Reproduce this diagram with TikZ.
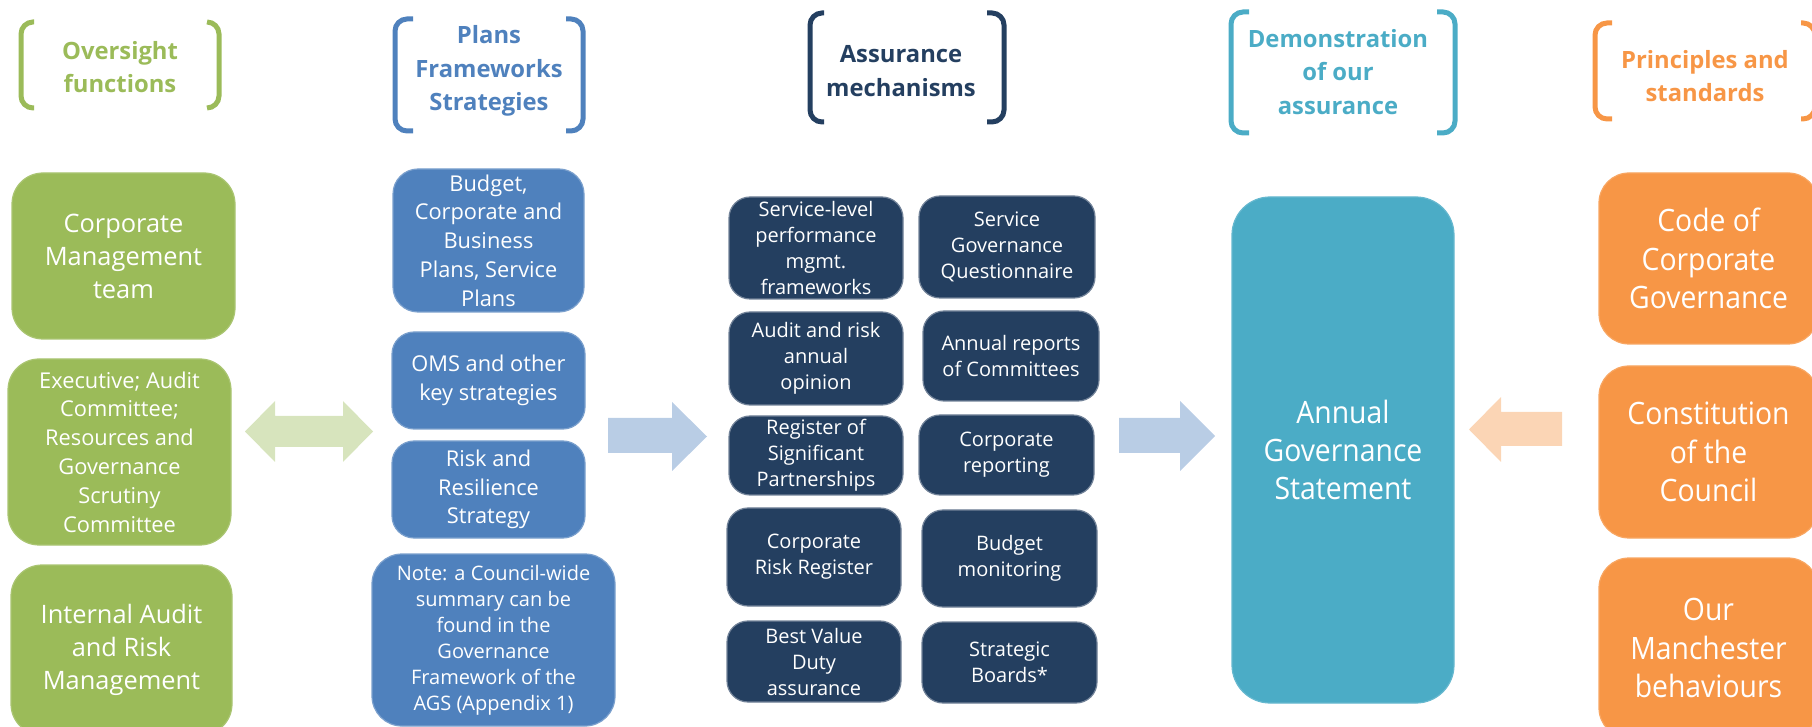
\documentclass[tikz,border=0pt]{standalone}
\usepackage{fontspec}
\setmainfont{Open Sans}
\newfontfamily\narrowfont[FakeStretch=0.92]{Open Sans}

\definecolor{ogreen}{HTML}{9BBB59}
\definecolor{oblue}{HTML}{4F81BD}
\definecolor{onavy}{HTML}{243F60}
\definecolor{oteal}{HTML}{4BACC6}
\definecolor{oorange}{HTML}{F79646}
\definecolor{agreen}{HTML}{D7E4BD}
\definecolor{ablue}{HTML}{B9CDE5}
\definecolor{apeach}{HTML}{FBD5B5}

\newcommand{\fBig}{\fontsize{12.7}{16.5}\selectfont}
\newcommand{\fMid}{\fontsize{10.9}{14.4}\selectfont}
\newcommand{\fSmall}{\fontsize{10}{13}\selectfont}
\newcommand{\fNarrow}{\narrowfont\fontsize{15.4}{19.2}\selectfont}
\newcommand{\fHead}{\bfseries\fontsize{11.9}{16.7}\selectfont}

\tikzset{
  card/.style={rounded corners=#1, inner sep=0pt, align=center, text=white, line width=0.6pt},
  greencard/.style={card=15.5pt, fill=ogreen, draw=ogreen!85!white},
  bluecard/.style={card=#1, fill=oblue, draw=oblue!75!white, font=\fMid},
  navycard/.style={card=10.5pt, fill=onavy, draw=onavy!65!white, font=\fSmall},
  tealcard/.style={card=19pt, fill=oteal, draw=oteal!85!white, font=\fNarrow},
  orangecard/.style={card=15pt, fill=oorange, draw=oorange!85!white, font=\fNarrow},
  head/.style={align=center, inner sep=0pt, font=\fHead},
  brk/.style={line width=2.5pt, rounded corners=6pt},
  blockarrow/.style={draw=none}
}

\begin{document}
\begin{tikzpicture}[x=0.5pt, y=-0.5pt]
\useasboundingbox (0,0) rectangle (1812,727);
\clip (0,0) rectangle (1812,727);

% ---------- column headings ----------
\node[head, text=ogreen] (hOver) at (120,67) {Oversight\\functions};
\draw[brk, ogreen] (34,22) -- (21,22) -- (21,108) -- (34,108);
\draw[brk, ogreen] (207,22) -- (219,22) -- (219,108) -- (207,108);

\node[head, text=oblue] (hPlans) at (489,71) {Plans\\Frameworks\\Strategies};
\draw[brk, oblue] (413,19) -- (395,19) -- (395,131) -- (413,131);
\draw[brk, oblue] (566,19) -- (583,19) -- (583,131) -- (566,131);

\node[head, text=onavy] (hAssur) at (901,71) {Assurance\\mechanisms};
\draw[brk, onavy] (824,13) -- (810,13) -- (810,122) -- (824,122);
\draw[brk, onavy] (987,13) -- (1004,13) -- (1004,122) -- (987,122);

\node[head, text=oteal] (hDemo) at (1338,72) {Demonstration\\of our\\assurance};
\draw[brk, oteal] (1249,12) -- (1231,12) -- (1231,133) -- (1249,133);
\draw[brk, oteal] (1437,12) -- (1455,12) -- (1455,133) -- (1437,133);

\node[head, text=oorange] (hPrin) at (1705,76) {Principles and\\standards};
\draw[brk, oorange] (1612,23) -- (1595,23) -- (1595,119) -- (1612,119);
\draw[brk, oorange] (1801,23) -- (1815,23) -- (1815,119) -- (1801,119);

% ---------- oversight functions ----------
\node[greencard, font=\fBig, minimum width=111.5pt, minimum height=83pt] (cmt) at (123.5,256)
  {Corporate\\Management\\team};
\node[greencard, font=\fMid, minimum width=111.5pt, minimum height=93pt] (exec) at (119.5,452)
  {Executive; Audit\\Committee;\\Resources and\\Governance\\Scrutiny\\Committee};
\node[greencard, font=\fBig, minimum width=110.5pt, minimum height=85pt] (iarm) at (121.5,650)
  {Internal Audit\\and Risk\\Management};

% ---------- plans, frameworks, strategies ----------
\node[bluecard=12.5pt, minimum width=95.5pt, minimum height=71.5pt] (budget) at (488.5,240.5)
  {Budget,\\Corporate and\\Business\\Plans, Service\\Plans};
\node[bluecard=11pt, minimum width=96.5pt, minimum height=48.5pt] (oms) at (488.5,380.5)
  {OMS and other\\key strategies};
\node[bluecard=11pt, minimum width=96.5pt, minimum height=48.5pt] (risk) at (488.5,489.5)
  {Risk and\\Resilience\\Strategy};
\node[bluecard=15pt, font=\fSmall, minimum width=121.5pt, minimum height=86pt] (note) at (493.5,640)
  {Note: a Council-wide\\summary can be\\found in the\\Governance\\Framework of the\\AGS (Appendix 1)};

% ---------- assurance mechanisms ----------
\node[navycard, minimum width=87pt, minimum height=51pt] (svl) at (816,248)
  {Service-level\\performance\\mgmt.\\frameworks};
\node[navycard, minimum width=88pt, minimum height=51pt] (sgq) at (1007,247)
  {Service\\Governance\\Questionnaire};
\node[navycard, minimum width=87pt, minimum height=46.5pt] (arao) at (816,358.5)
  {Audit and risk\\annual\\opinion};
\node[navycard, minimum width=88pt, minimum height=45pt] (arc) at (1011,356)
  {Annual reports\\of Committees};
\node[navycard, minimum width=87pt, minimum height=39.5pt] (rsp) at (816,455.5)
  {Register of\\Significant\\Partnerships};
\node[navycard, minimum width=87.5pt, minimum height=40pt] (crep) at (1006.5,455)
  {Corporate\\reporting};
\node[navycard, minimum width=87pt, minimum height=49pt] (crr) at (814,557)
  {Corporate\\Risk Register};
\node[navycard, minimum width=87.5pt, minimum height=48.5pt] (bm) at (1009.5,558.5)
  {Budget\\monitoring};
\node[navycard, minimum width=87pt, minimum height=40.5pt] (bvd) at (814,661.5)
  {Best Value\\Duty\\assurance};
\node[navycard, minimum width=87.5pt, minimum height=40.5pt] (sb) at (1009.5,662.5)
  {Strategic\\Boards*};

% ---------- demonstration of assurance ----------
\node[tealcard, minimum width=111pt, minimum height=253pt] (ags) at (1343,450)
  {Annual\\Governance\\Statement};

% ---------- principles and standards ----------
\node[orangecard, minimum width=109.5pt, minimum height=85.5pt] (code) at (1708.5,258.5)
  {Code of\\Corporate\\Governance};
\node[orangecard, minimum width=109.5pt, minimum height=86pt] (const) at (1708.5,452)
  {Constitution\\of the\\Council};
\node[orangecard, minimum width=109.5pt, minimum height=90pt] (ourm) at (1708.5,648)
  {Our\\Manchester\\behaviours};

% ---------- block arrows ----------
\fill[agreen] (245,431.5) -- (275,401) -- (275,416) -- (343,416) -- (343,401) -- (373,431.5)
  -- (343,462) -- (343,447) -- (275,447) -- (275,462) -- cycle;
\fill[ablue] (608,418) -- (672,418) -- (672,402) -- (707,436.5) -- (672,471) -- (672,453)
  -- (608,453) -- cycle;
\fill[ablue] (1119,418) -- (1180,418) -- (1180,401) -- (1215,436) -- (1180,471) -- (1180,453)
  -- (1119,453) -- cycle;
\fill[apeach] (1562,412) -- (1501,412) -- (1501,397) -- (1469,429.5) -- (1501,462) -- (1501,446)
  -- (1562,446) -- cycle;
\end{tikzpicture}
\end{document}
